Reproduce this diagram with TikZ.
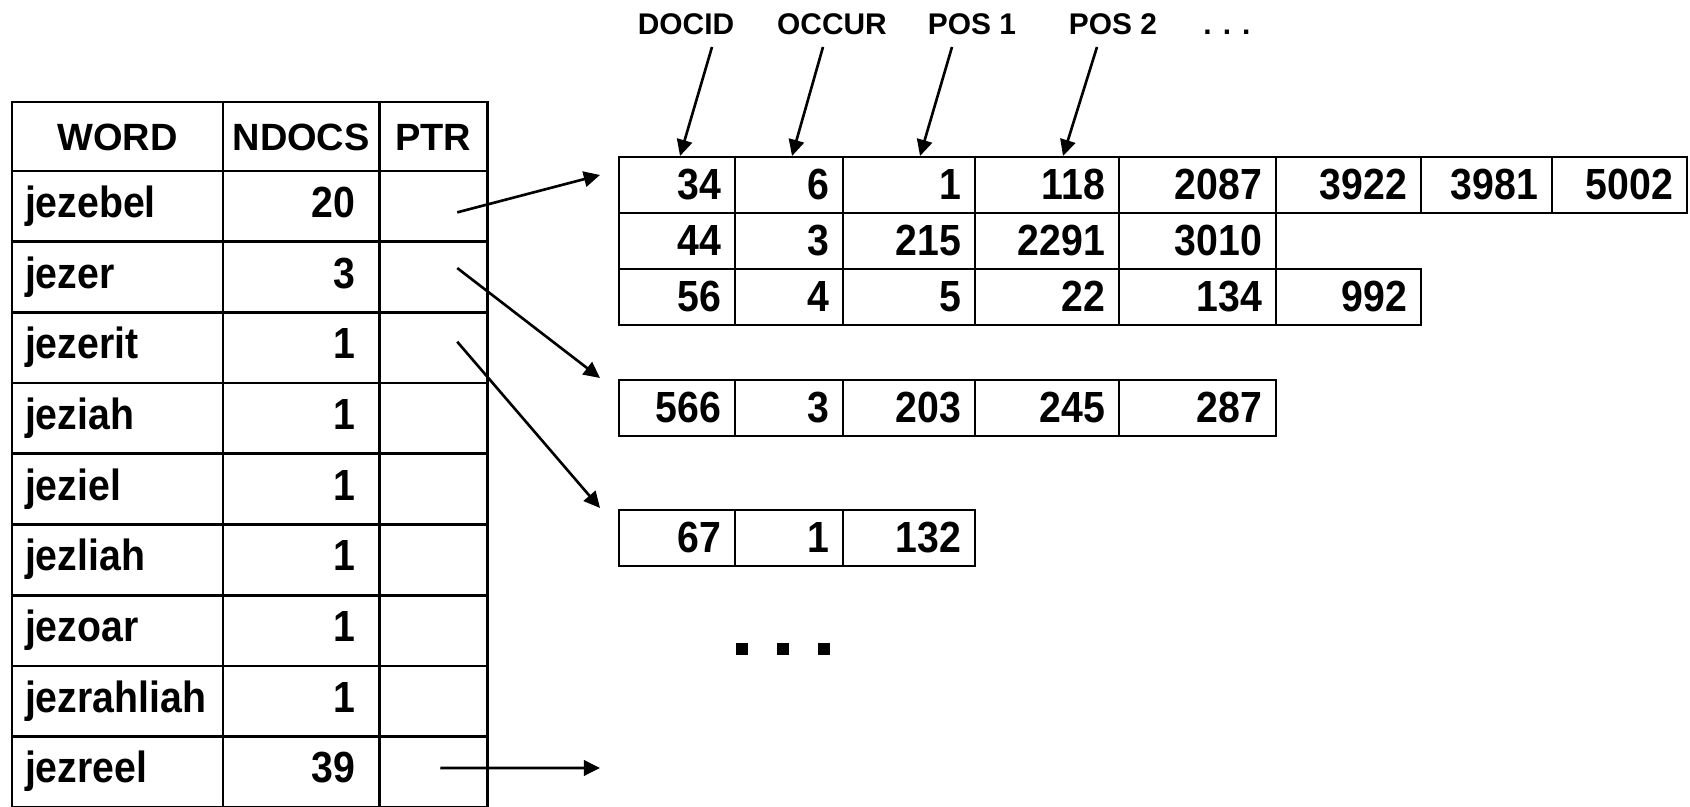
\documentclass[tikz,border=0pt]{standalone}
\usepackage{fontspec}
\setmainfont{Liberation Sans}
\newfontfamily\narrowfont{Liberation Sans}[FakeStretch=0.9]
\usepackage{tikz}
\usetikzlibrary{arrows.meta,positioning}
\tikzset{
  cell/.style={draw, line width=0.75pt, outer sep=0pt, inner ysep=0pt, anchor=north west,
               font=\narrowfont\bfseries\fontsize{12.4}{14}\selectfont},
  headcell/.style={cell, minimum height=0.69cm, text height=0.27cm, text depth=0pt,
                   inner xsep=0pt, align=center, font=\bfseries\fontsize{10.8}{13}\selectfont},
  wordcell/.style={cell, minimum height=0.707cm, text height=0.32cm, text depth=0.1cm,
                   text width=1.85cm, inner xsep=0.13cm, align=left},
  ndoccell/.style={cell, minimum height=0.707cm, text height=0.32cm, text depth=0.1cm,
                   text width=1.08cm, inner xsep=0.24cm, align=right},
  ptrcell/.style={cell, minimum height=0.707cm, minimum width=1.08cm, inner xsep=0pt},
  postcell/.style={cell, minimum height=0.56cm, text height=0.32cm, text depth=0.03cm,
                   inner xsep=0.14cm, align=right},
  colname/.style={font=\bfseries\fontsize{8.5}{10}\selectfont, anchor=base, inner sep=0pt},
  bigdot/.style={fill=black, minimum size=0.12cm, inner sep=0pt},
  arrow/.style={-{Triangle[length=4.6pt,width=4.4pt]}, line width=0.75pt},
}

\begin{document}
\begin{tikzpicture}[x=0.01cm, y=-0.01cm]
\useasboundingbox (0,0) rectangle (1690,807);

% word table
\node[headcell, minimum width=2.11cm] (hword) at (12,102) {WORD};
\node[headcell, minimum width=1.56cm, right=0pt of hword] (hndocs) {NDOCS};
\node[headcell, minimum width=1.08cm, right=0pt of hndocs] (hptr) {PTR};
\foreach \w/\n [count=\i] in {jezebel/20, jezer/3, jezerit/1, jeziah/1, jeziel/1,
                              jezliah/1, jezoar/1, jezrahliah/1, jezreel/39}{
  \pgfmathsetmacro\y{171+70.7*(\i-1)}
  \node[wordcell] (w\i) at (12,\y) {\w};
  \node[ndoccell, right=0pt of w\i] (n\i) {\n};
  \node[ptrcell, right=0pt of n\i] (p\i) {};
}

% posting lists
\def\colx{{619,735,843,975,1119,1276,1421,1552,1687}}
\foreach \r/\y/\vals in {a/157/{34,6,1,118,2087,3922,3981,5002},
                         b/213/{44,3,215,2291,3010},
                         c/269/{56,4,5,22,134,992},
                         d/380/{566,3,203,245,287},
                         e/510/{67,1,132}}{
  \foreach \v [count=\i] in \vals {
    \pgfmathsetmacro\xa{\colx[\i-1]}
    \pgfmathsetmacro\xb{\colx[\i]}
    \pgfmathsetmacro\tw{(\xb-\xa-28)/100}
    \node[postcell, text width=\tw cm] (\r\i) at (\xa,\y) {\v};
  }
}

% column names
\node[colname] (docid) at (686,35) {DOCID};
\node[colname] (occur) at (832,35) {OCCUR};
\node[colname] (pos1) at (972,35) {POS 1};
\node[colname] (pos2) at (1113,35) {POS 2};
\node[colname] (more) at (1227,35) {. . .};
\foreach \l/\c/\dx/\tx in {docid/a1/26/3, occur/a2/-9/3, pos1/a3/-20/11, pos2/a4/-16/16}
  \draw[arrow] ([shift={(\dx,12)}]\l.base) -- ([shift={(\tx,-1)}]\c.north);

% pointers
\coordinate (tipa) at (600,175);
\coordinate (tipd) at (600,378);
\coordinate (tipe) at (600,508);
\coordinate (tipz) at (600,768);
\draw[arrow] ([shift={(24,6)}]p1.center) -- (tipa);
\draw[arrow] ([shift={(24,-9)}]p2.center) -- (tipd);
\draw[arrow] ([shift={(24,-6)}]p3.center) -- (tipe);
\draw[arrow] ([shift={(7,-4)}]p9.center) -- (tipz);

\foreach \i/\x in {1/742, 2/783, 3/824}
  \node[bigdot] (dot\i) at (\x,649) {};
\end{tikzpicture}
\end{document}
